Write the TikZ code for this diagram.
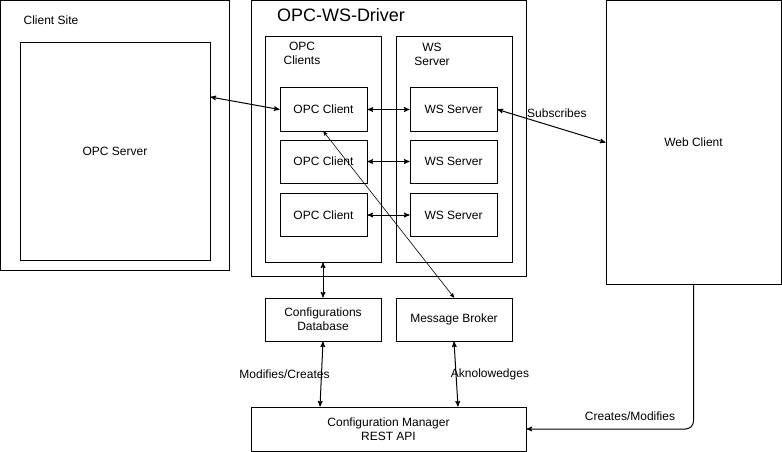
\documentclass[tikz,border=0pt]{standalone}
\usepackage{fontspec}
\setmainfont{Liberation Sans}
\usetikzlibrary{arrows, positioning}
\tikzset{
    container/.style={rectangle, draw=black, line width=1pt, inner sep=0pt, text centered, align=center, font=\fontsize{12}{14}\selectfont},
    process/.style={rectangle, draw=black, line width=1pt, minimum width=87pt, minimum height=43pt, inner sep=0pt, text centered, align=center, font=\fontsize{12}{14}\selectfont},
    tag/.style={inner sep=0pt, align=center, font=\fontsize{12}{14}\selectfont},
    arrow/.style={line width=1pt,<->,>=stealth'},
    thinarrow/.style={line width=0.6pt,<->,>=stealth'}
}

\begin{document}
\begin{tikzpicture}[x=1pt, y=-1pt]
    \useasboundingbox (0,0) rectangle (782,452);

    % client side
    \node (site) [container, minimum width=229pt, minimum height=270pt] at (115,135.5) {};
    \node (sitetag) [tag] at (51,20) {Client Site};
    \node (opcserver) [container, minimum width=190pt, minimum height=217pt] at (115,151.5) {OPC Server};

    % driver
    \node (driver) [container, minimum width=275pt, minimum height=275pt] at (388.5,138.5) {};
    \node (drivertag) [tag, font=\fontsize{18}{21}\selectfont] at (341,15) {OPC-WS-Driver};
    \node (opcgroup) [container, minimum width=116pt, minimum height=225pt] at (323,149.5) {};
    \node (wsgroup) [container, minimum width=116pt, minimum height=225pt] at (454,149.5) {};
    \node (opctag) [tag] at (302,53) {OPC\\Clients};
    \node (wstag) [tag] at (432,54) {WS\\Server};

    \node (client1) [process] at (323.5,109.5) {OPC Client};
    \node (client2) [process, below=8pt of client1] {OPC Client};
    \node (client3) [process, below=9.5pt of client2] {OPC Client};
    \node (ws1) [process, right=42pt of client1] {WS Server};
    \node (ws2) [process, right=42pt of client2] {WS Server};
    \node (ws3) [process, right=42pt of client3] {WS Server};

    % web side
    \node (webclient) [container, minimum width=175pt, minimum height=283pt] at (693.5,142.5) {Web Client};

    \node (db) [process, minimum width=116pt] at (323,319.5) {Configurations\\Database};
    \node (broker) [process, minimum width=116pt] at (454,319.5) {Message Broker};
    \node (manager) [process, minimum width=275pt, minimum height=44pt] at (388.5,429) {Configuration Manager\\REST API};

    \draw [arrow] ([yshift=54.5pt]opcserver.east) -- (client1.west);
    \draw [arrow] (client1) -- (ws1);
    \draw [arrow] (client2) -- (ws2);
    \draw [arrow] (client3) -- (ws3);
    \draw [arrow] (ws1.east) -- (webclient.west) node[tag, pos=0.55, above=10pt] {Subscribes};
    \draw [thinarrow] (client1.south) -- (broker.north);
    \draw [arrow] (opcgroup.south) -- (db.north);
    \draw [arrow] (db.south) -- ([xshift=-68.5pt]manager.north) node[tag, midway, xshift=-37pt] {Modifies/Creates};
    \draw [arrow] (broker.south) -- ([xshift=69.5pt]manager.north) node[tag, midway, xshift=34pt] {Aknolowedges};
    \draw [line width=1pt, ->, >=stealth', rounded corners=8pt] (webclient.south) |- (manager.east);
    \node (createtag) [tag] at (630,416) {Creates/Modifies};
\end{tikzpicture}
\end{document}
